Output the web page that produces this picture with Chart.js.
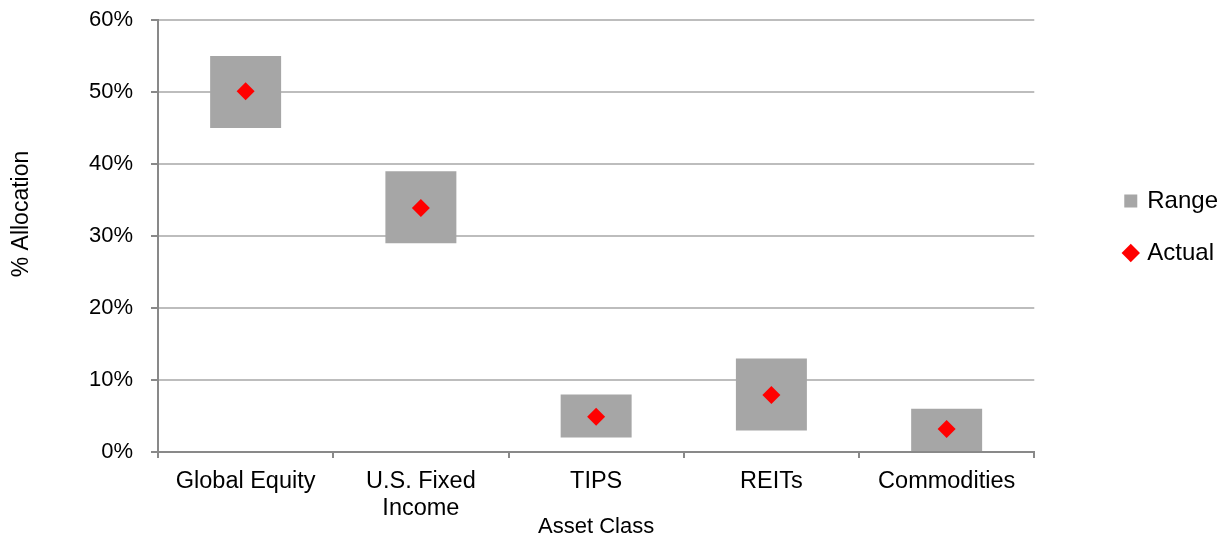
<!DOCTYPE html>
<html>
<head>
<meta charset="utf-8">
<script src="https://cdn.jsdelivr.net/npm/chart.js@4/dist/chart.umd.min.js"></script>
<style>
  html, body { margin: 0; padding: 0; background: #ffffff; }
  #wrap { width: 1228px; height: 539px; }
</style>
</head>
<body>
<div id="wrap"><canvas id="chart" width="1228" height="539"></canvas></div>
<script>
// Target allocation ranges and actual allocation per asset class (%)
const categories = ['Global Equity', ['U.S. Fixed', 'Income'], 'TIPS', 'REITs', 'Commodities'];
const rangeLow  = [45, 29, 2, 3, 0];
const rangeHigh = [55, 39, 8, 13, 6];
const actual    = [50.1, 33.9, 4.9, 7.9, 3.2];
const yMin = 0, yMax = 60, yStep = 10;
const seriesNames = ['Range', 'Actual'];

const FONT = '"Liberation Sans", Arial, Helvetica, sans-serif';
const AXIS_COLOR = '#898989';
const GRID_COLOR = '#bdbdbd';

const rangeBars = rangeLow.map((lo, i) => [lo, rangeHigh[i]]);

// Rotated y-axis caption, drawn a little above the plot's vertical middle
const yCaption = {
  id: 'yCaption',
  afterDraw(chart) {
    const { ctx, chartArea } = chart;
    ctx.save();
    ctx.translate(22, (chartArea.top + chartArea.bottom) / 2 - 22);
    ctx.rotate(-Math.PI / 2);
    ctx.font = '23px ' + FONT;
    ctx.fillStyle = '#000000';
    ctx.textAlign = 'center';
    ctx.textBaseline = 'middle';
    ctx.fillText('% Allocation', 0, 0);
    ctx.restore();
  }
};

// Keep the legend block slightly above the plot's vertical centre
const legendLift = {
  id: 'legendLift',
  afterLayout(chart) {
    const lg = chart.legend;
    if (lg) {
      lg.bottom -= 18;
      lg.height -= 18;
    }
  }
};

Chart.defaults.font.family = FONT;
Chart.defaults.font.size = 22;
Chart.defaults.color = '#000000';

new Chart(document.getElementById('chart'), {
  type: 'bar',
  data: {
    labels: categories,
    datasets: [
      {
        label: seriesNames[0],
        data: rangeBars,
        backgroundColor: '#a6a6a6',
        borderWidth: 0,
        barPercentage: 0.405,
        categoryPercentage: 1.0,
        order: 2
      },
      {
        type: 'line',
        label: seriesNames[1],
        data: actual,
        showLine: false,
        pointStyle: 'rectRot',
        pointRadius: 9,
        pointHoverRadius: 9,
        pointBackgroundColor: '#ff0000',
        pointBorderWidth: 0,
        backgroundColor: '#ff0000',
        borderColor: '#ff0000',
        borderWidth: 0,
        order: 1
      }
    ]
  },
  options: {
    responsive: false,
    animation: false,
    layout: { padding: { top: 20, right: 0, bottom: 0, left: 0 } },
    plugins: {
      tooltip: { enabled: false },
      legend: {
        position: 'right',
        fullSize: false,
        labels: {
          usePointStyle: true,
          boxWidth: 9,
          boxHeight: 13,
          padding: 28,
          color: '#000000',
          font: { size: 24 },
          sort: (a, b) => a.datasetIndex - b.datasetIndex,
          generateLabels(chart) {
            const items = Chart.defaults.plugins.legend.labels.generateLabels(chart);
            items.forEach(it => {
              it.pointStyle = it.datasetIndex === 0 ? 'rect' : 'rectRot';
              it.lineWidth = 0;
              it.strokeStyle = 'rgba(0,0,0,0)';
            });
            return items;
          }
        }
      }
    },
    scales: {
      x: {
        grid: {
          display: true,
          drawOnChartArea: false,
          drawTicks: true,
          tickLength: 6,
          tickColor: AXIS_COLOR,
          lineWidth: 2,
          offset: true
        },
        border: { display: true, color: AXIS_COLOR, width: 2 },
        ticks: { padding: 10, color: '#000000', font: { size: 23.5, lineHeight: 1.15 }, maxRotation: 0, autoSkip: false },
        title: { display: true, text: 'Asset Class', color: '#000000', font: { size: 22, lineHeight: 1.1 }, padding: { top: 0, bottom: 0 } },
        afterFit(scale) { scale.height = 87; }
      },
      y: {
        min: yMin,
        max: yMax,
        grid: {
          color: GRID_COLOR,
          lineWidth: 2,
          tickLength: 7,
          tickColor: AXIS_COLOR
        },
        border: { display: true, color: AXIS_COLOR, width: 2 },
        ticks: {
          stepSize: yStep,
          padding: 18,
          color: '#000000',
          font: { size: 22 },
          callback: v => v + '%'
        },
        afterFit(scale) {
          scale.width = 158;
          scale.paddingTop = 0;
          scale.paddingBottom = 0;
        }
      },
      gap: {
        position: 'right',
        display: true,
        grid: { display: false },
        border: { display: false },
        ticks: { display: false },
        afterFit(scale) { scale.width = 64; }
      }
    }
  },
  plugins: [yCaption, legendLift]
});
</script>
</body>
</html>
